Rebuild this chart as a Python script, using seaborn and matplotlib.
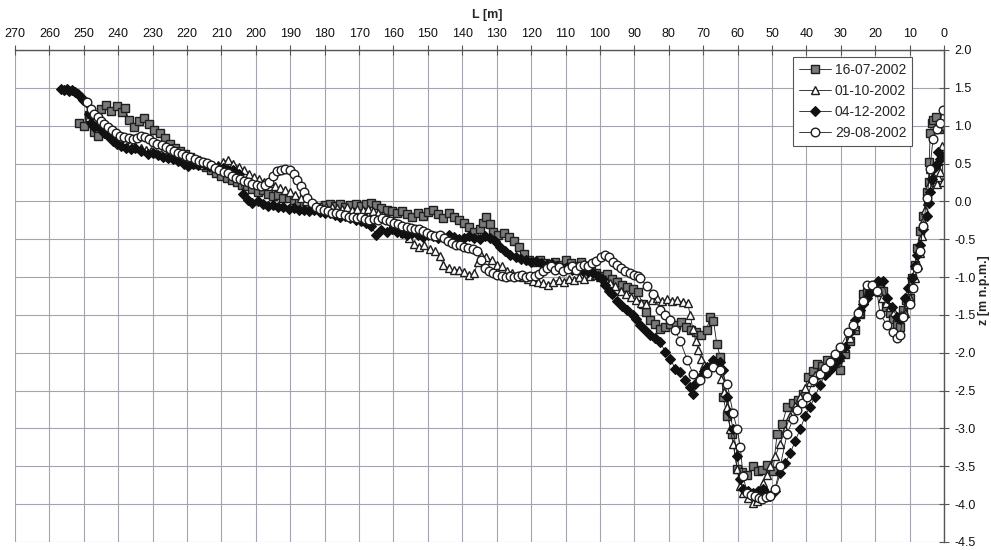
import matplotlib
matplotlib.use("Agg")
import matplotlib.pyplot as plt
import numpy as np
import seaborn as sns

# ---------------- data ----------------
labels = ["16-07-2002", "01-10-2002", "04-12-2002", "29-08-2002"]

a_L = [251.5, 250.0, 248.5, 247.0, 246.0, 245.0, 243.5, 242.0, 240.5, 239.0, 238.0, 237.0, 235.5, 234.0, 232.5, 231.0,
       229.5, 228.0, 226.5, 225.0, 223.5, 222.0, 220.5, 219.0, 217.5, 216.0, 214.5, 213.0, 211.5, 210.0, 208.5, 207.0,
       205.5, 204.0, 202.5, 201.0, 199.5, 198.0, 196.5, 195.0, 193.5, 192.0, 190.5, 189.0, 187.5, 186.0, 184.5, 183.0,
       181.5, 180.0, 178.5, 177.0, 175.5, 174.0, 172.5, 171.0, 169.5, 168.0, 166.5, 165.0, 163.5, 162.0, 160.5, 159.0,
       157.5, 156.0, 154.5, 153.0, 151.5, 150.0, 148.5, 147.0, 145.5, 144.0, 142.5, 141.0, 139.5, 138.0, 136.5, 135.0,
       134.0, 133.0, 132.0, 131.0, 129.5, 128.0, 126.5, 125.0, 123.5, 122.0, 120.5, 119.0, 117.5, 116.0, 114.5, 113.0,
       111.5, 110.0, 108.5, 107.0, 105.5, 104.0, 102.5, 101.0, 99.5, 98.0, 96.5, 95.0, 93.5, 92.0, 90.5, 89.0,
       87.5, 86.5, 85.5, 84.0, 82.5, 81.0, 79.5, 78.0, 76.5, 75.0, 73.5, 72.0, 70.5, 69.0, 68.0, 67.0,
       66.0, 65.0, 64.2, 63.0, 61.6, 60.1, 58.6, 57.2, 55.5, 54.0, 52.9, 51.3, 49.7, 48.5, 47.0, 45.6,
       43.9, 42.4, 40.9, 39.5, 38.2, 36.9, 35.4, 34.0, 32.5, 31.2, 30.2, 28.8, 27.4, 26.0, 24.4, 23.5,
       22.5, 21.5, 20.5, 19.5, 18.6, 17.7, 16.8, 15.8, 14.8, 13.8, 12.8, 11.9, 10.9, 9.9, 9.2, 8.5,
       7.8, 7.0, 6.1, 4.9, 4.5, 4.3, 4.0, 3.5, 3.2, 2.3, 1.5, 0.8, 0.3]
a_z = [1.04, 1.00, 1.14, 0.92, 0.86, 1.22, 1.27, 1.20, 1.26, 1.18, 1.24, 1.08, 0.98, 1.06, 1.10, 1.02,
       0.94, 0.90, 0.84, 0.76, 0.70, 0.66, 0.62, 0.58, 0.55, 0.50, 0.45, 0.42, 0.38, 0.34, 0.31, 0.28,
       0.26, 0.22, 0.20, 0.16, 0.13, 0.15, 0.10, 0.07, 0.09, 0.05, 0.04, 0.02, -0.01, -0.04, -0.07, -0.10,
       -0.08, -0.05, -0.03, -0.06, -0.04, -0.07, -0.05, -0.03, -0.06, -0.04, -0.02, -0.05, -0.09, -0.11, -0.13, -0.15,
       -0.13, -0.17, -0.20, -0.16, -0.19, -0.14, -0.12, -0.17, -0.22, -0.16, -0.20, -0.24, -0.28, -0.34, -0.40, -0.36,
       -0.28, -0.21, -0.30, -0.40, -0.44, -0.42, -0.47, -0.52, -0.60, -0.70, -0.78, -0.80, -0.78, -0.81, -0.83, -0.80,
       -0.84, -0.78, -0.82, -0.86, -0.80, -0.88, -0.92, -0.95, -0.98, -0.96, -1.02, -1.06, -1.10, -1.13, -1.16, -1.20,
       -1.36, -1.46, -1.57, -1.62, -1.69, -1.66, -1.62, -1.63, -1.60, -1.66, -1.70, -1.72, -1.76, -1.70, -1.53, -1.58,
       -1.89, -2.06, -2.58, -2.84, -3.07, -3.54, -3.58, -3.62, -3.50, -3.56, -3.55, -3.48, -3.56, -3.07, -2.94, -2.71,
       -2.67, -2.62, -2.54, -2.32, -2.24, -2.15, -2.18, -2.10, -2.14, -2.18, -2.23, -2.02, -1.85, -1.70, -1.49, -1.23,
       -1.20, -1.18, -1.14, -1.10, -1.16, -1.18, -1.40, -1.48, -1.56, -1.62, -1.66, -1.44, -1.30, -1.27, -1.01, -0.84,
       -0.62, -0.39, -0.19, 0.13, 0.26, 0.52, 0.91, 1.04, 1.08, 1.12, 0.95, 1.02, 1.00]

b_L = [248.5, 247.0, 245.5, 244.0, 242.5, 241.0, 239.5, 238.0, 236.5, 235.0, 233.5, 232.0, 230.5, 229.0, 227.5, 226.0,
       224.5, 223.0, 221.5, 220.0, 218.5, 217.0, 215.5, 214.0, 212.5, 211.0, 209.5, 208.0, 206.5, 205.0, 203.5, 202.0,
       200.5, 199.0, 197.5, 196.0, 194.5, 193.0, 191.5, 190.0, 188.5, 187.0, 185.5, 184.0, 182.5, 181.0, 179.5, 178.0,
       176.5, 175.0, 173.5, 172.0, 170.5, 169.0, 167.5, 166.0, 164.5, 163.0, 161.5, 160.0, 158.5, 157.0, 155.5, 154.0,
       152.5, 151.0, 149.5, 148.0, 146.5, 145.5, 144.0, 142.5, 141.0, 139.5, 138.0, 136.5, 135.5, 134.5, 133.0, 131.5,
       130.0, 128.5, 127.0, 125.5, 124.0, 122.5, 121.0, 119.5, 118.0, 116.5, 115.0, 113.5, 112.0, 110.5, 109.0, 107.5,
       106.0, 104.5, 103.0, 101.5, 100.0, 98.5, 97.0, 95.5, 94.0, 92.5, 91.0, 89.5, 88.0, 86.5, 85.0, 83.5,
       82.0, 80.5, 79.0, 77.5, 76.0, 74.5, 73.8, 73.0, 72.2, 71.4, 70.6, 69.8, 68.8, 67.8, 66.8, 65.8,
       64.8, 63.9, 63.0, 62.1, 61.3, 60.1, 59.2, 58.4, 57.0, 55.5, 54.3, 52.6, 51.5, 50.5, 49.0, 47.6,
       46.2, 44.7, 43.2, 41.8, 40.3, 38.9, 37.4, 36.0, 34.5, 33.1, 31.6, 30.2, 28.7, 27.3, 25.8, 24.4,
       23.2, 22.1, 21.0, 20.0, 19.0, 18.0, 16.8, 15.7, 14.6, 13.6, 12.4, 11.3, 10.6, 9.9, 9.1, 8.4,
       7.7, 7.0, 6.5, 6.1, 5.5, 4.9, 4.5, 4.1, 3.2, 2.6, 2.0, 1.6, 1.2, 0.9, 0.6, 0.3]
b_z = [1.12, 1.06, 1.02, 0.98, 0.92, 0.88, 0.82, 0.78, 0.76, 0.72, 0.70, 0.68, 0.66, 0.64, 0.62, 0.60,
       0.60, 0.58, 0.55, 0.54, 0.52, 0.50, 0.48, 0.50, 0.46, 0.48, 0.52, 0.55, 0.50, 0.46, 0.42, 0.36,
       0.32, 0.30, 0.26, 0.24, 0.20, 0.18, 0.15, 0.13, 0.08, 0.04, 0.01, -0.03, -0.05, -0.06, -0.08, -0.07,
       -0.09, -0.10, -0.08, -0.11, -0.10, -0.12, -0.10, -0.13, -0.15, -0.18, -0.22, -0.27, -0.35, -0.42, -0.49, -0.56,
       -0.60, -0.58, -0.63, -0.66, -0.72, -0.84, -0.88, -0.91, -0.90, -0.93, -0.97, -0.95, -0.80, -0.71, -0.73, -0.78,
       -0.84, -0.86, -0.92, -0.95, -0.98, -1.00, -1.03, -1.05, -1.06, -1.08, -1.10, -1.06, -1.04, -1.06, -1.02, -1.04,
       -1.00, -1.03, -0.99, -0.97, -1.00, -1.03, -1.08, -1.12, -1.18, -1.22, -1.26, -1.30, -1.34, -1.36, -1.30, -1.28,
       -1.32, -1.29, -1.31, -1.30, -1.33, -1.34, -1.50, -1.68, -1.84, -1.97, -2.08, -2.16, -2.23, -2.14, -2.10, -2.18,
       -2.34, -2.52, -2.71, -3.01, -3.20, -3.54, -3.76, -3.85, -3.92, -3.98, -3.96, -3.72, -3.62, -3.50, -3.36, -3.20,
       -3.02, -2.84, -2.70, -2.58, -2.46, -2.38, -2.30, -2.25, -2.22, -2.19, -2.14, -2.06, -1.94, -1.80, -1.64, -1.47,
       -1.30, -1.20, -1.16, -1.14, -1.20, -1.27, -1.34, -1.40, -1.46, -1.53, -1.50, -1.47, -1.36, -1.27, -1.12, -1.01,
       -0.84, -0.68, -0.46, -0.26, -0.12, 0.00, 0.22, 0.43, 0.34, 0.30, 0.23, 0.32, 0.39, 0.55, 0.73, 0.26]

c_L = [256.5, 255.8, 255.0, 254.2, 253.4, 252.6, 251.8, 250.9, 250.1, 249.4, 248.6, 247.8, 247.0, 246.0, 245.0, 244.0,
       243.0, 241.6, 240.5, 239.3, 237.8, 236.4, 235.0, 233.5, 231.4, 230.0, 228.5, 227.0, 225.5, 224.0, 222.5, 221.0,
       219.8, 218.3, 216.8, 215.2, 213.5, 211.1, 209.5, 208.0, 206.5, 205.0, 203.6, 202.3, 201.0, 199.5, 198.0, 196.5,
       195.0, 193.5, 192.0, 190.5, 189.0, 187.5, 186.0, 184.5, 183.0, 181.5, 180.0, 178.5, 177.0, 175.5, 174.0, 172.5,
       171.0, 169.5, 168.0, 166.5, 165.0, 163.5, 162.0, 160.5, 159.0, 157.5, 156.0, 154.5, 153.0, 151.5, 150.0, 148.5,
       147.0, 145.5, 144.0, 142.5, 141.0, 139.5, 138.0, 136.5, 135.0, 133.5, 132.0, 130.5, 129.0, 127.5, 126.0, 124.5,
       123.0, 121.5, 120.0, 118.5, 117.0, 115.5, 114.0, 112.5, 111.0, 109.5, 108.0, 106.5, 105.0, 103.5, 102.0, 100.5,
       99.5, 98.5, 97.5, 96.5, 95.0, 93.5, 92.0, 90.5, 89.5, 88.3, 86.8, 85.4, 84.0, 82.5, 81.0, 79.6,
       78.1, 76.7, 75.2, 73.8, 72.9, 72.3, 70.9, 69.8, 68.8, 67.1, 65.0, 64.2, 63.0, 62.2, 61.3, 60.1,
       59.2, 58.4, 57.0, 55.5, 54.0, 52.6, 51.5, 50.5, 49.1, 47.6, 46.2, 44.7, 43.3, 41.8, 40.4, 38.9,
       37.5, 36.0, 34.6, 33.5, 32.5, 31.3, 30.2, 28.7, 27.3, 25.8, 24.4, 23.4, 22.4, 21.5, 20.6, 19.2,
       17.7, 16.6, 15.1, 13.6, 12.7, 11.9, 11.3, 10.5, 9.3, 8.5, 7.8, 7.0, 6.1, 4.9, 4.5, 4.1,
       3.6, 3.2, 2.6, 2.0, 1.6, 1.2, 0.6]
c_z = [1.48, 1.47, 1.49, 1.46, 1.47, 1.45, 1.42, 1.38, 1.34, 1.31, 1.15, 1.04, 0.98, 1.00, 0.95, 0.90,
       0.86, 0.80, 0.76, 0.73, 0.71, 0.69, 0.70, 0.66, 0.63, 0.64, 0.61, 0.58, 0.57, 0.56, 0.54, 0.50,
       0.47, 0.49, 0.48, 0.49, 0.47, 0.46, 0.44, 0.42, 0.41, 0.36, 0.10, 0.02, -0.02, 0.00, -0.04, -0.06,
       -0.05, -0.08, -0.07, -0.10, -0.09, -0.12, -0.11, -0.13, -0.12, -0.14, -0.16, -0.15, -0.18, -0.20, -0.19, -0.22,
       -0.24, -0.26, -0.28, -0.33, -0.44, -0.38, -0.40, -0.37, -0.40, -0.42, -0.44, -0.42, -0.45, -0.47, -0.44, -0.46,
       -0.49, -0.47, -0.45, -0.47, -0.50, -0.48, -0.46, -0.48, -0.50, -0.46, -0.48, -0.52, -0.60, -0.66, -0.71, -0.73,
       -0.76, -0.78, -0.80, -0.79, -0.82, -0.84, -0.83, -0.86, -0.88, -0.87, -0.90, -0.91, -0.92, -0.93, -0.94, -0.98,
       -1.02, -1.10, -1.18, -1.23, -1.31, -1.38, -1.44, -1.50, -1.56, -1.63, -1.70, -1.76, -1.80, -1.86, -1.99, -2.08,
       -2.21, -2.25, -2.36, -2.45, -2.54, -2.41, -2.32, -2.24, -2.19, -2.10, -2.12, -2.23, -2.58, -2.80, -3.01, -3.37,
       -3.67, -3.80, -3.83, -3.85, -3.82, -3.80, -3.86, -3.89, -3.82, -3.59, -3.46, -3.33, -3.17, -3.01, -2.84, -2.71,
       -2.58, -2.42, -2.29, -2.24, -2.19, -2.12, -2.06, -1.93, -1.73, -1.57, -1.44, -1.35, -1.27, -1.20, -1.14, -1.05,
       -1.05, -1.27, -1.40, -1.53, -1.56, -1.53, -1.27, -1.14, -1.01, -0.86, -0.71, -0.58, -0.36, -0.19, -0.02, 0.13,
       0.30, 0.43, 0.46, 0.50, 0.65, 0.56, 0.60]

d_L = [249.0, 248.0, 247.0, 246.0, 245.0, 244.0, 243.0, 241.8, 240.6, 239.4, 238.2, 237.0, 235.8, 234.6, 233.4, 232.2,
       231.0, 229.8, 228.6, 227.4, 226.2, 225.0, 223.8, 222.6, 221.4, 220.2, 219.0, 217.8, 216.6, 215.4, 214.2, 213.0,
       211.8, 210.6, 209.4, 208.2, 207.0, 205.8, 204.6, 203.4, 202.2, 201.0, 199.8, 198.6, 197.4, 196.2, 195.0, 193.8,
       192.6, 191.4, 190.2, 189.0, 188.0, 187.0, 186.0, 185.0, 183.8, 182.6, 181.4, 180.2, 179.0, 177.8, 176.6, 175.4,
       174.2, 173.0, 171.8, 170.6, 169.4, 168.2, 167.0, 165.8, 164.6, 163.4, 162.2, 161.0, 159.8, 158.6, 157.4, 156.2,
       155.0, 153.8, 152.6, 151.4, 150.2, 149.0, 147.8, 146.6, 145.4, 144.2, 143.0, 141.8, 140.6, 139.4, 138.2, 137.0,
       135.8, 134.6, 133.4, 132.2, 131.0, 129.8, 128.6, 127.4, 126.2, 125.0, 123.8, 122.6, 121.4, 120.2, 119.0, 117.8,
       116.6, 115.4, 114.2, 113.0, 111.8, 110.6, 109.4, 108.2, 107.0, 105.8, 104.6, 103.4, 102.2, 101.0, 99.8, 98.6,
       97.4, 96.2, 95.0, 93.8, 92.6, 91.4, 90.2, 89.0, 88.3, 86.4, 84.5, 82.5, 81.0, 79.6, 78.2, 76.7,
       74.6, 72.9, 70.9, 69.0, 67.1, 65.0, 63.0, 61.3, 60.1, 59.2, 58.4, 57.2, 56.0, 54.9, 53.9, 52.9,
       51.7, 50.5, 49.1, 47.6, 45.6, 43.9, 42.7, 41.2, 39.8, 38.0, 36.0, 34.5, 33.1, 31.6, 30.2, 27.9,
       26.4, 25.0, 23.5, 22.4, 20.9, 19.5, 18.6, 16.6, 14.8, 13.6, 12.8, 11.9, 9.9, 9.0, 7.8, 7.0,
       6.1, 4.9, 4.1, 3.2, 2.0, 1.2, 0.3]
d_z = [1.31, 1.22, 1.16, 1.11, 1.06, 1.02, 0.98, 0.94, 0.90, 0.87, 0.85, 0.84, 0.83, 0.84, 0.86, 0.85,
       0.82, 0.79, 0.76, 0.74, 0.72, 0.69, 0.67, 0.64, 0.62, 0.60, 0.58, 0.56, 0.54, 0.52, 0.51, 0.48,
       0.44, 0.41, 0.39, 0.37, 0.34, 0.31, 0.29, 0.27, 0.25, 0.23, 0.21, 0.20, 0.21, 0.26, 0.34, 0.40,
       0.42, 0.43, 0.42, 0.36, 0.28, 0.20, 0.12, 0.05, -0.02, -0.07, -0.10, -0.12, -0.13, -0.15, -0.16, -0.17,
       -0.18, -0.20, -0.21, -0.22, -0.21, -0.23, -0.24, -0.23, -0.24, -0.22, -0.25, -0.26, -0.28, -0.30, -0.32, -0.34,
       -0.35, -0.37, -0.36, -0.39, -0.42, -0.44, -0.46, -0.44, -0.48, -0.52, -0.55, -0.57, -0.58, -0.60, -0.62, -0.63,
       -0.66, -0.78, -0.88, -0.92, -0.95, -0.97, -0.98, -1.00, -0.98, -1.00, -0.98, -0.97, -1.00, -0.98, -0.99, -0.96,
       -0.92, -0.88, -0.86, -0.90, -0.87, -0.92, -0.89, -0.86, -0.90, -0.86, -0.84, -0.86, -0.82, -0.79, -0.74, -0.71,
       -0.73, -0.80, -0.84, -0.88, -0.92, -0.95, -0.97, -0.99, -1.01, -1.12, -1.23, -1.44, -1.50, -1.57, -1.70, -1.84,
       -2.10, -2.28, -2.36, -2.27, -2.19, -2.23, -2.41, -2.80, -3.01, -3.24, -3.63, -3.85, -3.88, -3.89, -3.92, -3.93,
       -3.91, -3.89, -3.80, -3.50, -3.07, -2.88, -2.75, -2.66, -2.58, -2.36, -2.28, -2.20, -2.12, -2.02, -1.93, -1.73,
       -1.63, -1.47, -1.31, -1.10, -1.10, -1.18, -1.49, -1.63, -1.73, -1.80, -1.76, -1.53, -1.36, -1.14, -0.88, -0.66,
       -0.32, 0.04, 0.43, 0.82, 0.95, 1.04, 1.21]

x_ticks = list(range(270, -1, -10))
y_ticks = [2.0, 1.5, 1.0, 0.5, 0.0, -0.5, -1.0, -1.5, -2.0, -2.5, -3.0, -3.5, -4.0, -4.5]

# ---------------- style ----------------
sns.set_style("white")
plt.rcParams["font.family"] = ["Liberation Sans", "DejaVu Sans"]

W, H = 991, 550
fig = plt.figure(figsize=(W / 100, H / 100), dpi=100)
ax_left, ax_right, ax_top, ax_bot = 15, 944, 50, 542
ax = fig.add_axes([ax_left / W, 1 - ax_bot / H, (ax_right - ax_left) / W, (ax_bot - ax_top) / H])

line_kw = dict(color="#1a1a1a", linewidth=0.6, sort=False, estimator=None, ax=ax)
sns.lineplot(x=a_L, y=a_z, marker="s", markersize=5.8, markerfacecolor="#7a7a7a",
             markeredgecolor="#1e1e1e", markeredgewidth=1.0, label=labels[0], **line_kw)
sns.lineplot(x=b_L, y=b_z, marker="^", markersize=6.3, markerfacecolor="white",
             markeredgecolor="#1e1e1e", markeredgewidth=1.0, label=labels[1], **line_kw)
sns.lineplot(x=c_L, y=c_z, marker="D", markersize=5, markerfacecolor="#111111",
             markeredgecolor="#111111", markeredgewidth=0.8, label=labels[2], **line_kw)
sns.lineplot(x=d_L, y=d_z, marker="o", markersize=6.2, markerfacecolor="white",
             markeredgecolor="#1e1e1e", markeredgewidth=1.0, label=labels[3], **line_kw)

ax.set_xlim(270, 0)
ax.set_ylim(-4.5, 2.0)
ax.set_xticks(x_ticks)
ax.set_yticks(y_ticks)
ax.set_yticklabels([f"{v:.1f}" for v in y_ticks])
ax.xaxis.tick_top()
ax.yaxis.tick_right()
ax.tick_params(axis="both", direction="inout", length=7, width=0.8, color="#555555",
               labelsize=9, labelcolor="#111111")
ax.tick_params(axis="x", pad=4)
ax.tick_params(axis="y", pad=4)
ax.set_xlabel("")
ax.set_ylabel("")
ax.grid(True, color="#a4a4ae", linewidth=0.8)
ax.set_axisbelow(True)
for side in ["top", "right"]:
    ax.spines[side].set_color("#555555")
    ax.spines[side].set_linewidth(1.0)
for side in ["left", "bottom"]:
    ax.spines[side].set_visible(False)

leg = ax.legend(loc="upper right", bbox_to_anchor=((912 - ax_left) / (ax_right - ax_left), 1 - (57 - ax_top) / (ax_bot - ax_top)),
                borderaxespad=0, fontsize=10, frameon=True, fancybox=False, framealpha=1,
                edgecolor="#555555", handlelength=2.3, handletextpad=0.3, labelspacing=0.52,
                borderpad=0.4)
leg.get_frame().set_linewidth(0.8)

fig.text(487 / W, 1 - 15 / H, "L [m]", ha="center", va="center", fontsize=9, fontweight="bold")
fig.text(984 / W, 1 - 290 / H, "z [m n.p.m.]", ha="center", va="center", rotation=90,
         fontsize=9, fontweight="bold")

fig.savefig("out.png", dpi=100, facecolor="white")
